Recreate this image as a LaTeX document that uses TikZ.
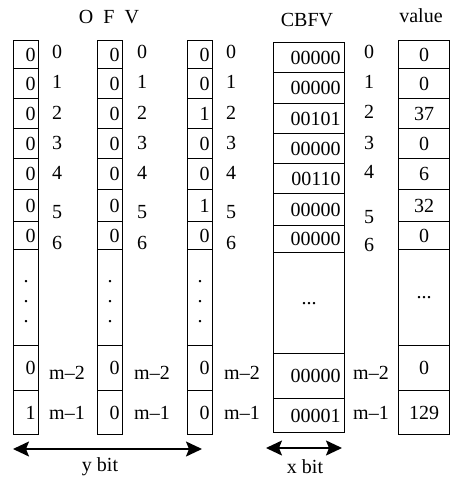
\documentclass[tikz,border=0pt]{standalone}
\usepackage{fontspec}
\setmainfont{Liberation Serif}
\usetikzlibrary{arrows.meta}

\tikzset{
    cell/.style={draw,line width=1.2pt,inner sep=0pt,anchor=north west},
    bitcell/.style={cell,minimum width=25,text width=19,align=right},
    cbcell/.style={cell,minimum width=71,text width=63,align=right},
    valcell/.style={cell,minimum width=51,text width=51,align=center},
}

\begin{document}
\begin{tikzpicture}[x=1pt,y=-1pt,font=\fontsize{20}{20}\selectfont,
    >={Stealth[length=16pt,width=15pt,inset=3pt]}]
    \useasboundingbox (0,0) rectangle (457,477);

    % titles
    \node (tofv) at (109,17) {O\enspace F\enspace V};
    \node (tcbfv) at (307,20) {CBFV};
    \node (tval) at (421,16) {value};

    % OFV bit arrays and value column
    \foreach \ya/\yb/\pa/\pb/\pc/\val/\nm in {40/68/0/0/0/0/0, 68/98/0/0/0/0/1,
        98/128/0/0/1/37/2, 128/158/0/0/0/0/3, 158/189/0/0/0/6/4,
        189/221/0/0/1/32/5, 221/249/0/0/0/0/6, 345/390/0/0/0/0/m2,
        390/434/1/0/0/129/m1}{
        \node[bitcell,minimum height=\yb-\ya] (ofa\nm) at (13,\ya) {\pa};
        \node[bitcell,minimum height=\yb-\ya] (ofb\nm) at (97,\ya) {\pb};
        \node[bitcell,minimum height=\yb-\ya] (ofc\nm) at (187,\ya) {\pc};
        \node[valcell,minimum height=\yb-\ya] (val\nm) at (398,\ya) {\val};
    }
    \foreach \x/\c in {13/a,97/b,187/c}{
        \node[bitcell,align=center,text height=10pt,minimum height=96]
            (of\c dots) at (\x,249) {.\\.\\.};
    }
    \node[valcell,minimum height=96] (valdots) at (398,249) {...};

    % CBFV
    \foreach \ya/\yb/\bits/\nm in {42/72/00000/0, 72/103/00000/1,
        103/133/00101/2, 133/163/00000/3, 163/193/00110/4,
        193/225/00000/5, 225/252/00000/6, 353/398/00000/m2,
        398/432/00001/m1}{
        \node[cbcell,minimum height=\yb-\ya] (cb\nm) at (273,\ya) {\bits};
    }
    \node[cbcell,align=center,text width=59,minimum height=101] (cbdots)
        at (273,252) {...};

    % index labels
    \foreach \y/\nm in {52/0, 82/1, 113/2, 143/3, 173/4, 212/5, 243/6}{
        \node (ia\nm) at (57,\y) {\nm};
        \node (ib\nm) at (142,\y) {\nm};
        \node (ic\nm) at (231,\y) {\nm};
    }
    \foreach \y/\nm in {52/0, 82/1, 112/2, 143/3, 172/4, 217/5, 245/6}{
        \node (icb\nm) at (369,\y) {\nm};
    }
    \foreach \x/\c in {67/a,152/b,242/c,371/cb}{
        \node (i\c m2) at (\x,373) {m--2};
        \node (i\c m1) at (\x,413) {m--1};
    }

    % widths
    \coordinate (ybitL) at (13,449);
    \coordinate (ybitR) at (202,449);
    \coordinate (xbitL) at (266,448);
    \coordinate (xbitR) at (342,448);
    \draw[<->,line width=1.6pt] (ybitL) -- (ybitR);
    \draw[<->,line width=1.6pt] (xbitL) -- (xbitR);
    \node (ybit) at (100,467) {y bit};
    \node (xbit) at (305,467) {x bit};
\end{tikzpicture}
\end{document}
